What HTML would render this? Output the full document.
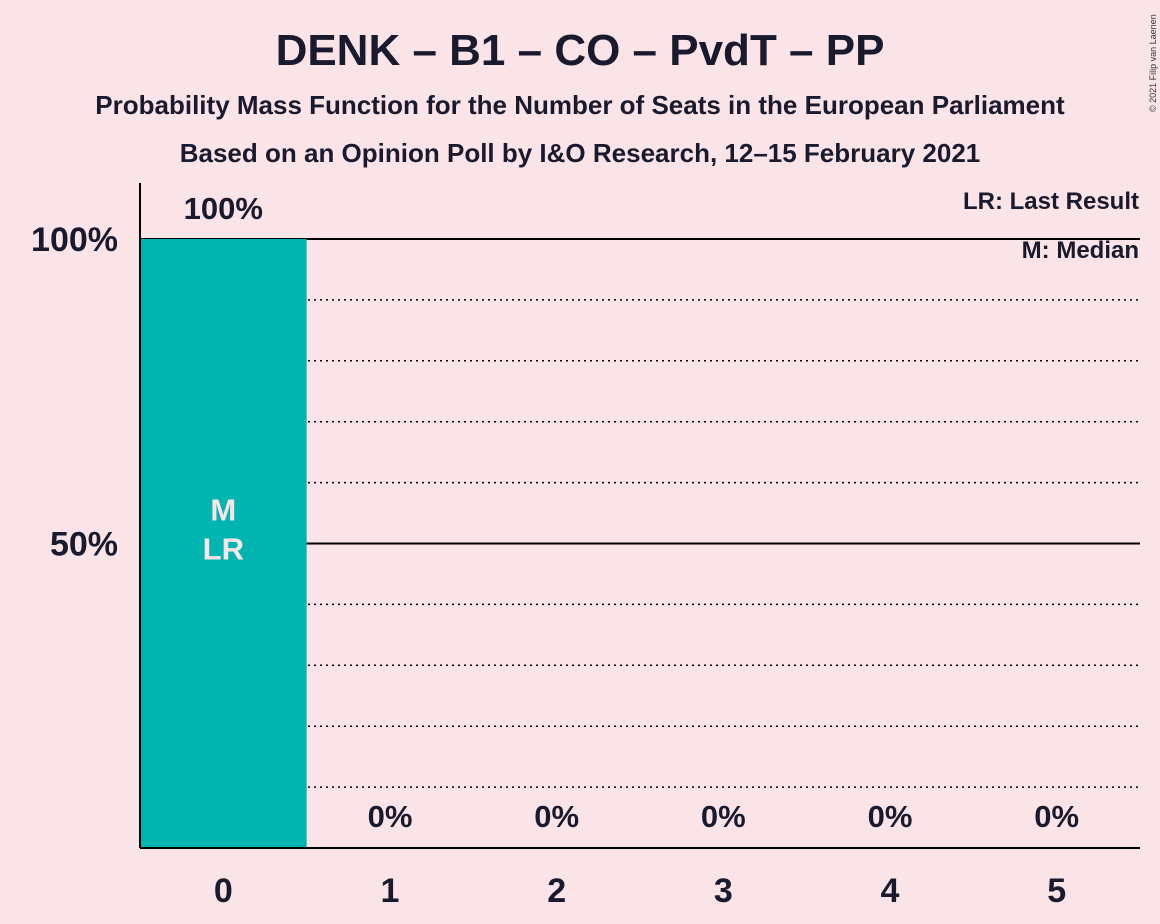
<!DOCTYPE html>
<html><head><meta charset="utf-8"><style>
body{margin:0;background:#fbe4e7;}
svg{display:block;font-family:"Liberation Sans",sans-serif;font-weight:bold;}
</style></head><body>
<svg id="chart" width="1160" height="924">
<rect width="1160" height="924" fill="#fbe4e7"/>
<text x="580" y="65" text-anchor="middle" font-size="44" fill="#1a1a2e">DENK – B1 – CO – PvdT – PP</text>
<text x="580" y="114" text-anchor="middle" font-size="26" fill="#1a1a2e">Probability Mass Function for the Number of Seats in the European Parliament</text>
<text x="580" y="162" text-anchor="middle" font-size="26" fill="#1a1a2e">Based on an Opinion Poll by I&amp;O Research, 12–15 February 2021</text>
<text transform="translate(1156,112) rotate(-90)" font-size="9" font-weight="normal" fill="#333">© 2021 Filip van Laenen</text>
<text x="1139" y="209" text-anchor="end" font-size="24" fill="#1a1a2e">LR: Last Result</text>
<text x="1139" y="258" text-anchor="end" font-size="24" fill="#1a1a2e">M: Median</text>
<g id="grid"></g><g id="bars"></g><g id="labels"></g>
<line x1="140" y1="183" x2="140" y2="848" stroke="#000" stroke-width="2"/>
<line x1="140" y1="848" x2="1140" y2="848" stroke="#000" stroke-width="2"/>
</svg>
<script>
const categories=[0,1,2,3,4,5];
const values=[100,0,0,0,0,0];
const valueLabels=["100%","0%","0%","0%","0%","0%"];
const yTicks=[50,100];
const yTickLabels=["50%","100%"];
const medianIndex=0;
const lastResultIndex=0;
const NS="http://www.w3.org/2000/svg";
const x0=140,x1=1140,yB=848,yT=239;
const bw=(x1-x0)/categories.length;
const xs=i=>x0+i*bw;
const ys=v=>yB-(v/100)*(yB-yT);
function mk(t,a,p){const e=document.createElementNS(NS,t);for(const k in a)e.setAttribute(k,a[k]);p.appendChild(e);return e;}
const grid=document.getElementById('grid'),bars=document.getElementById('bars'),labels=document.getElementById('labels');
for(let v=10;v<=100;v+=10){
 const solid=v%50===0;
 const l=mk('line',{x1:x0,x2:x1,y1:ys(v),y2:ys(v),stroke:'#000','stroke-width':solid?2:1.5,'stroke-dasharray':solid?'none':'2,4'},grid);
 
 
}
yTicks.forEach((v,i)=>{
 const t=mk('text',{x:118,y:ys(v)+12,'text-anchor':'end','font-size':34,fill:'#1a1a2e'},labels);
 t.textContent=yTickLabels[i];
 
 
});
categories.forEach((c,i)=>{
 const cx=xs(i)+bw/2;
 if(values[i]>0){
  const r=mk('rect',{x:xs(i),y:ys(values[i]),width:bw,height:yB-ys(values[i]),fill:'#00b5b0'},bars);
  
  
 }
 const vl=mk('text',{x:cx,y:values[i]>0?ys(values[i])-20:ys(values[i])-21,'text-anchor':'middle','font-size':31,fill:'#1a1a2e'},labels);
 vl.textContent=valueLabels[i];
 
 
 const xl=mk('text',{x:cx,y:902,'text-anchor':'middle','font-size':34,fill:'#1a1a2e'},labels);
 xl.textContent=c;
 
 
});
const mid=ys(50);
const mcx=xs(medianIndex)+bw/2;
const m=mk('text',{x:mcx,y:mid-23,'text-anchor':'middle','font-size':31,fill:'#fbe4e7'},labels);
m.textContent='M';


const lr=mk('text',{x:xs(lastResultIndex)+bw/2,y:mid+16,'text-anchor':'middle','font-size':31,fill:'#fbe4e7'},labels);
lr.textContent='LR';


</script>
</body></html>
